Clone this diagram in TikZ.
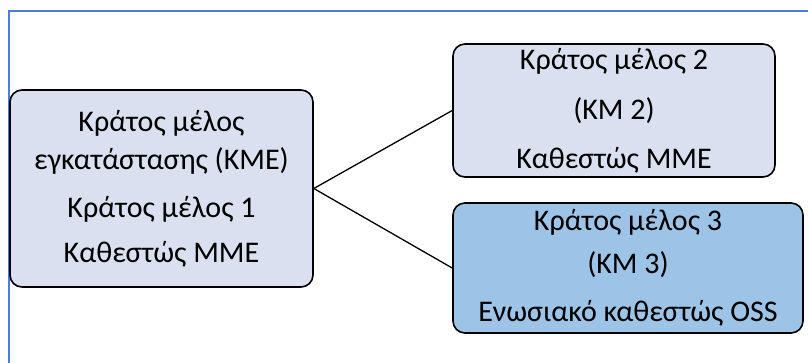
\documentclass[tikz,border=0pt]{standalone}
\usepackage{fontspec}
\setmainfont{Carlito}
\usepackage{xcolor}
\definecolor{framblue}{HTML}{4A7EDB}
\definecolor{boxpale}{HTML}{DAE0EF}
\definecolor{boxblue}{HTML}{9DC3E6}

\begin{document}
\begin{tikzpicture}
  [x=1pt,y=-1pt,every node/.style={rectangle,draw=black,line width=1.6pt,rounded corners=12pt,
   align=center,inner sep=0pt,font=\fontsize{30}{38}\selectfont,fill=boxpale}]
  \useasboundingbox (0,0) rectangle (808,362);
  \clip (0,0) rectangle (808,362);
  \draw[framblue,line width=2.2pt] (9,400) -- (9,11) -- (850,11);
  \node[minimum width=303pt,minimum height=197pt] (kme) at (161.5,188.5)
    {Κράτος μέλος\\εγκατάστασης (ΚΜΕ)\\[10pt]Κράτος μέλος 1\\[7pt]Καθεστώς ΜΜΕ};
  \node[minimum width=322pt,minimum height=133pt] (km2) at (614,110.5)
    {Κράτος μέλος 2\\[12pt](ΚΜ 2)\\[11pt]Καθεστώς ΜΜΕ};
  \node[minimum width=350pt,minimum height=130pt,fill=boxblue] (km3) at (628,268)
    {Κράτος μέλος 3\\[5pt](ΚΜ 3)\\[10pt]Ενωσιακό καθεστώς OSS};
  \foreach \from/\to in {kme/km2,kme/km3}
    \draw[line width=1.3pt] (\from.east) -- (\to.west);
\end{tikzpicture}
\end{document}
